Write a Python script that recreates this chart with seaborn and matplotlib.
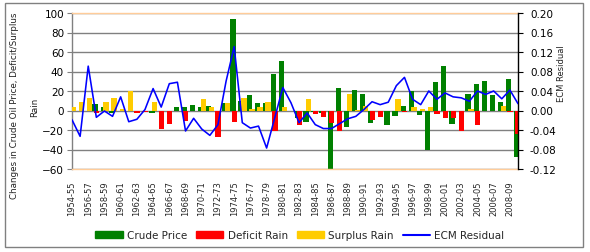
import numpy as np
import pandas as pd
import matplotlib
matplotlib.use("Agg")
import matplotlib.pyplot as plt
import seaborn as sns
from matplotlib.patches import Patch, Rectangle
from matplotlib.lines import Line2D
from matplotlib.ticker import FormatStrFormatter, MultipleLocator

# ---------------- data ----------------
start_years = list(range(1954, 2010))
years = [f"{y}-{(y + 1) % 100:02d}" for y in start_years]

crude_price = [0, 0, 0, 6.8, 3.1, -2.4, 0, 0, 0, 0,
               -2.7, 0, 0, 3.1, 3.1, 6.1, 3.1, 5.1, 0, 7.8,
               94.0, 9.5, 16.4, 7.2, 7.2, 37.9, 51.2, 0, -7.5, -12.0,
               -1.4, -2.4, -61.0, 23.5, -17.0, 21.5, 17.4, -13.0, 0, -15.0,
               -5.8, 5.1, 20.5, -4.8, -40.6, 29.7, 46.1, -13.5, 0, 17.4,
               27.6, 30.7, 16.4, 9.2, 32.8, -47.8]

deficit_rain = [0, 0, 0, -2.7, 0, 0, 0, 0, -2.7, -1.7,
                0, -19.1, -14.0, 0, -10.9, 0, 0, 0, -27.3, 0,
                -12.0, 0, 0, 0, 0, -21.2, 0, 0, -15.2, 0,
                -4.1, -6.8, -13.0, -21.2, 0, 0, 0, -9.9, -6.8, 0,
                0, -1.7, 0, 0, 0, -3.8, -7.8, -8.0, -21.2, 0,
                -15.0, 0, 0, 0, -1.7, -24.6]

surplus_rain = [3.4, 9.2, 13.3, 0, 9.2, 13.3, 1.4, 20.1, 0, 0,
                9.2, 0, 0, 0, 0, 0, 11.3, 4.1, 0, 7.2,
                0, 13.3, 2.0, 4.1, 9.2, 0, 4.1, 0, 0, 12.3,
                0, 0, 0, 0, 17.4, 1.0, 5.1, 0, 0, 0,
                11.3, 0, 3.1, 2.0, 4.1, 0, 0, 0, 0, 2.0,
                0, 0, 0, 5.1, 0, 0]

ecm_residual = [-0.019, -0.053, 0.091, -0.014, -0.001, -0.012, 0.028, -0.023, -0.018, 0.002,
                0.045, 0.007, 0.055, 0.058, -0.042, -0.016, -0.038, -0.051, -0.029, 0.060,
                0.131, -0.025, -0.036, -0.032, -0.077, -0.015, 0.047, 0.016, -0.025, -0.005,
                -0.029, -0.037, -0.037, -0.027, -0.017, -0.012, 0.002, 0.018, 0.012, 0.017,
                0.051, 0.068, 0.023, 0.012, 0.040, 0.023, 0.036, 0.028, 0.026, 0.019,
                0.040, 0.033, 0.040, 0.024, 0.042, 0.014]

series_names = ["Crude Price", "Deficit Rain", "Surplus Rain", "ECM Residual"]
colors = ["#008000", "#FF0000", "#FFCC00", "#0000FF"]

idx = np.arange(len(years))

# ---------------- figure ----------------
sns.set_style("white")
plt.rcParams["font.family"] = ["DejaVu Sans"]

W, H = 590, 253
fig = plt.figure(figsize=(W / 100, H / 100), dpi=100)
L, R, T, B = 72, 518, 14, 170
ax = fig.add_axes([L / W, 1 - B / H, (R - L) / W, (B - T) / H])
ax2 = ax.twinx()

offsets = [-0.15, 0.02, 0.19]
bar_series = [crude_price, deficit_rain, surplus_rain]
for vals, off, col, z in zip(bar_series, offsets, colors[:3], [2, 3, 4]):
    df = pd.DataFrame({"x": idx + off, "v": vals})
    sns.barplot(data=df, x="x", y="v", native_scale=True, width=0.66,
                color=col, saturation=1, linewidth=0, errorbar=None,
                ax=ax, zorder=z)

ldf = pd.DataFrame({"x": idx, "r": ecm_residual})
sns.lineplot(data=ldf, x="x", y="r", ax=ax2, color=colors[3], lw=1.15,
             legend=False, zorder=5)

# axes limits and ticks
ax.set_xlim(0, len(years) - 1)
ax2.set_xlim(0, len(years) - 1)
ax.set_ylim(-60, 100)
ax.yaxis.set_major_locator(MultipleLocator(20))
ax2.set_ylim(-0.12, 0.20)
ax2.yaxis.set_major_locator(MultipleLocator(0.04))
ax2.yaxis.set_major_formatter(FormatStrFormatter("%.2f"))

ax.set_xticks(idx[::2])
ax.set_xticklabels(years[::2], rotation=90, fontsize=6)
ax.set_xlabel("")
ax.set_ylabel("")
ax2.set_xlabel("")
ax2.set_ylabel("")

ax.tick_params(axis="x", length=0, pad=8)
ax.tick_params(axis="y", left=True, length=3.6, width=0.8, color="#808080",
               labelsize=7.5, pad=2.2, labelcolor="black")
ax2.tick_params(axis="y", right=True, length=3.6, width=0.8, color="black",
                labelsize=7.5, pad=5, labelcolor="black")

ax.yaxis.grid(True, color="#808080", lw=1.0)
ax.xaxis.grid(False)
ax.set_axisbelow(True)

for s in ["top", "bottom"]:
    ax.spines[s].set_color("#FFCC99")
    ax.spines[s].set_linewidth(1.0)
ax.spines["left"].set_color("#808080")
ax.spines["left"].set_linewidth(1.0)
ax.spines["right"].set_visible(False)
for s in ["top", "bottom", "left"]:
    ax2.spines[s].set_visible(False)
ax2.spines["right"].set_color("black")
ax2.spines["right"].set_linewidth(1.0)

# axis titles
fig.text(15 / W, 1 - 106 / H, "Changes in Crude Oil Price, Deficit/Surplus",
         rotation=90, ha="center", va="center", fontsize=6.3, color="#222222")
fig.text(34.5 / W, 1 - 107 / H, "Rain", rotation=90, ha="center", va="center",
         fontsize=6.3, color="#222222")
fig.text(562 / W, 1 - 74 / H, "ECM Residual", rotation=90, ha="center",
         va="center", fontsize=6, color="#222222")

# legend
handles = [Patch(color=colors[0]), Patch(color=colors[1]), Patch(color=colors[2]),
           Line2D([0], [0], color=colors[3], lw=1.5)]
fig.legend(handles, series_names, loc="center", bbox_to_anchor=(300 / W, 1 - 236 / H),
           ncol=4, frameon=False, fontsize=7.5, handlelength=2.6, handleheight=0.6,
           handletextpad=0.4, columnspacing=0.9, borderaxespad=0)

# chart area border
fig.patches.append(Rectangle((5 / W, 1 - 248 / H), (583 - 5) / W, (248 - 4) / H,
                             transform=fig.transFigure, fill=False,
                             edgecolor="#808080", lw=1.0))

fig.savefig("out.png", dpi=100)
